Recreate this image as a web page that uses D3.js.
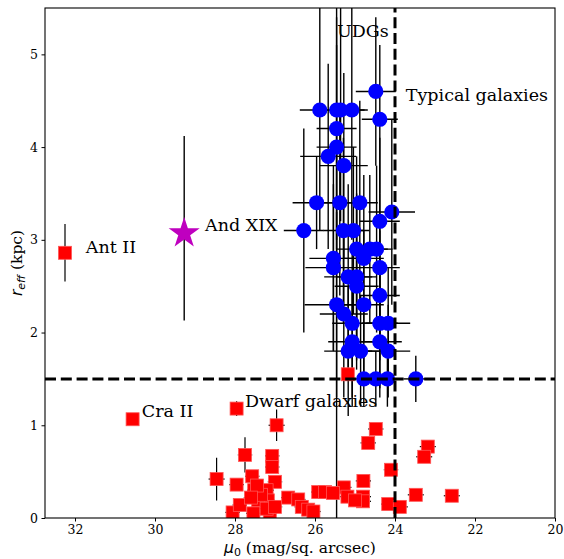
<!DOCTYPE html>
<html>
<head>
<meta charset="utf-8">
<script src="https://cdn.jsdelivr.net/npm/d3@7"></script>
<style>
  body { margin: 0; background: #fff; }
  .chart text { font-family: "DejaVu Serif", serif; }
</style>
</head>
<body>
<div class="chart"></div>
<script>
// UDGs (blue circles)
var udgMu  = [24.48, 25.88, 25.46, 25.36, 25.08, 24.38, 25.46, 25.46, 25.67, 25.28,
              25.96, 25.38, 24.88, 24.08, 24.38, 26.28, 25.29, 25.04, 24.96, 24.63,
              24.46, 24.78, 25.54, 25.54, 24.38, 25.17, 24.96, 24.96, 24.38, 25.46,
              24.78, 25.28, 25.07, 24.38, 24.17, 25.07, 24.38, 25.17, 24.86, 24.17,
              24.78, 24.48, 24.19, 23.48];
var udgR   = [4.60, 4.40, 4.40, 4.40, 4.40, 4.30, 4.20, 4.00, 3.90, 3.80,
              3.40, 3.40, 3.40, 3.30, 3.20, 3.10, 3.10, 3.10, 2.90, 2.90,
              2.90, 2.80, 2.80, 2.70, 2.70, 2.60, 2.60, 2.50, 2.40, 2.30,
              2.30, 2.20, 2.10, 2.10, 2.10, 1.90, 1.90, 1.80, 1.80, 1.80,
              1.50, 1.50, 1.50, 1.50];
var udgMuErr = [0.50, 0.50, 0.40, 0.60, 0.40, 0.45, 0.50, 0.50, 0.70, 0.60,
                0.60, 0.50, 0.45, 0.58, 0.50, 0.50, 0.50, 0.40, 0.50, 0.45,
                0.40, 0.50, 0.60, 0.70, 0.50, 0.60, 0.50, 0.55, 0.50, 0.80,
                0.50, 0.60, 0.50, 0.45, 0.55, 0.60, 0.55, 0.60, 0.50, 0.55,
                0.40, 0.40, 0.40, 0.30];
var udgRErr  = [0.80, 1.30, 4.50, 1.20, 1.40, 0.80, 1.20, 1.10, 1.00, 1.00,
                0.50, 1.00, 1.10, 1.00, 0.90, 1.10, 1.00, 0.90, 1.00, 0.80,
                0.90, 0.90, 1.00, 0.90, 0.80, 1.00, 0.90, 0.90, 0.70, 1.00,
                0.80, 0.90, 0.80, 0.70, 0.60, 0.70, 0.60, 0.70, 0.60, 0.50,
                0.30, 0.30, 0.30, 0.25];

// dwarf galaxies (red squares)
var dwarfMu = [25.18, 27.96, 26.96, 24.48, 24.67, 27.75, 27.07, 27.07, 23.18, 23.27,
               24.10, 28.46, 27.96, 27.57, 27.00, 24.79, 25.28, 23.48, 22.58, 24.17,
               23.88, 24.80, 24.80, 25.19, 25.00, 25.92, 25.75, 25.55, 26.67, 26.42,
               26.33, 26.17, 26.04, 28.06, 27.88, 27.52, 27.21, 27.18, 27.42, 27.54,
               27.13, 27.21, 27.00, 27.35, 27.45, 27.60];
var dwarfR  = [1.55, 1.18, 1.00, 0.96, 0.81, 0.68, 0.67, 0.55, 0.77, 0.66,
               0.52, 0.42, 0.36, 0.45, 0.39, 0.40, 0.33, 0.25, 0.24, 0.15,
               0.12, 0.23, 0.18, 0.23, 0.19, 0.28, 0.28, 0.27, 0.22, 0.20,
               0.12, 0.09, 0.07, 0.06, 0.14, 0.30, 0.30, 0.19, 0.19, 0.05,
               0.05, 0.10, 0.12, 0.25, 0.35, 0.22];
var dwarfMuErr = [0.15, 0.15, 0.20, 0.19, 0.19, 0.18, 0.18, 0.18, 0.20, 0.20,
                  0.18, 0.20, 0.18, 0.18, 0.18, 0.19, 0.19, 0.20, 0.20, 0.18,
                  0.20, 0.20, 0.20, 0.18, 0.18, 0.18, 0.18, 0.18, 0.18, 0.18,
                  0.18, 0.18, 0.18, 0.18, 0.18, 0.18, 0.18, 0.18, 0.18, 0.18,
                  0.18, 0.18, 0.18, 0.18, 0.18, 0.18];
var dwarfRErr  = [0.05, 0.08, 0.17, 0.04, 0.04, 0.19, 0.05, 0.05, 0.04, 0.04,
                  0.04, 0.23, 0.04, 0.04, 0.04, 0.04, 0.04, 0.04, 0.04, 0.04,
                  0.04, 0.04, 0.04, 0.04, 0.04, 0.04, 0.04, 0.04, 0.04, 0.04,
                  0.04, 0.04, 0.04, 0.04, 0.04, 0.04, 0.04, 0.04, 0.04, 0.04,
                  0.04, 0.04, 0.04, 0.04, 0.04, 0.04];

// named objects
var namedSquares = [
  {name: "Ant II", mu: 32.25, r: 2.86, muErr: 0.15, rErr: 0.31},
  {name: "Cra II", mu: 30.56, r: 1.065, muErr: 0.15, rErr: 0.05}
];
var andXIX = {name: "And XIX", mu: 29.27, r: 3.07, rLo: 0.94, rHi: 1.05};

var labels = [
  {text: "UDGs", mu: 25.45, r: 5.19},
  {text: "Typical galaxies", mu: 23.73, r: 4.50},
  {text: "And XIX", mu: 28.75, r: 3.10},
  {text: "Ant II", mu: 31.73, r: 2.86},
  {text: "Cra II", mu: 30.33, r: 1.09},
  {text: "Dwarf galaxies", mu: 27.75, r: 1.20}
];

var xTicks = [32, 30, 28, 26, 24, 22, 20];
var yTicks = [0, 1, 2, 3, 4, 5];
var rCut = 1.5, muCut = 24;

draw();

function draw() {
  var width = 564, height = 559;
  var margin = {left: 45, right: 9, top: 8, bottom: 41};

  var x = d3.scaleLinear().domain([32.75, 20]).range([margin.left, width - margin.right]);
  var y = d3.scaleLinear().domain([0, 5.5]).range([height - margin.bottom, margin.top]);

  var svg = d3.select(".chart")
          .append("svg")
          .attr("width", width)
          .attr("height", height);

  svg.append("clipPath").attr("id", "clip")
          .append("rect")
          .attr("x", margin.left).attr("y", margin.top)
          .attr("width", width - margin.left - margin.right)
          .attr("height", height - margin.top - margin.bottom);

  var plot = svg.append("g").attr("clip-path", "url(#clip)");

  var udg = udgMu.map(function(d, i) {
    return {mu: d, r: udgR[i], muErr: udgMuErr[i], rErr: udgRErr[i]};
  });
  var dwarfs = dwarfMu.map(function(d, i) {
    return {mu: d, r: dwarfR[i], muErr: dwarfMuErr[i], rErr: dwarfRErr[i]};
  }).concat(namedSquares);

  // error bars
  function errBars(g, data, w) {
    g.selectAll(".xe").data(data).enter().append("line")
          .attr("x1", function(d) { return x(d.mu - d.muErr); })
          .attr("x2", function(d) { return x(d.mu + d.muErr); })
          .attr("y1", function(d) { return y(d.r); })
          .attr("y2", function(d) { return y(d.r); })
          .attr("stroke", "#000").attr("stroke-width", w);
    g.selectAll(".ye").data(data).enter().append("line")
          .attr("x1", function(d) { return x(d.mu); })
          .attr("x2", function(d) { return x(d.mu); })
          .attr("y1", function(d) { return y(d.r - d.rErr); })
          .attr("y2", function(d) { return y(d.r + d.rErr); })
          .attr("stroke", "#000").attr("stroke-width", w);
  }

  errBars(plot.append("g"), dwarfs, 1.2);
  errBars(plot.append("g"), udg, 1.4);

  plot.append("line")
          .attr("x1", x(andXIX.mu)).attr("x2", x(andXIX.mu))
          .attr("y1", y(andXIX.r - andXIX.rLo)).attr("y2", y(andXIX.r + andXIX.rHi))
          .attr("stroke", "#000").attr("stroke-width", 1.4);

  // markers
  plot.selectAll(".dwarf").data(dwarfs).enter().append("rect")
          .attr("x", function(d) { return x(d.mu) - 6.5; })
          .attr("y", function(d) { return y(d.r) - 6.5; })
          .attr("width", 13).attr("height", 13)
          .attr("fill", "#ff0000")
          .attr("stroke", "#ff5555").attr("stroke-width", 0.8);

  plot.selectAll(".udg").data(udg).enter().append("circle")
          .attr("cx", function(d) { return x(d.mu); })
          .attr("cy", function(d) { return y(d.r); })
          .attr("r", 7.6)
          .attr("fill", "#0000ff");

  plot.append("path")
          .attr("d", d3.symbol(d3.symbolStar, 300)())
          .attr("transform", "translate(" + x(andXIX.mu) + "," + y(andXIX.r) + ")")
          .attr("fill", "#bf00bf");

  // threshold lines
  plot.append("line")
          .attr("x1", x.range()[0]).attr("x2", x.range()[1])
          .attr("y1", y(rCut)).attr("y2", y(rCut))
          .attr("stroke", "#000").attr("stroke-width", 3)
          .attr("stroke-dasharray", "11,4.8");
  plot.append("line")
          .attr("x1", x(muCut)).attr("x2", x(muCut))
          .attr("y1", y(0)).attr("y2", y(5.5))
          .attr("stroke", "#000").attr("stroke-width", 3)
          .attr("stroke-dasharray", "11,4.8");

  // annotations
  svg.selectAll(".lbl").data(labels).enter().append("text")
          .attr("x", function(d) { return x(d.mu); })
          .attr("y", function(d) { return y(d.r); })
          .style("font-size", "17.5px")
          .text(function(d) { return d.text; });

  // axes
  var xAxis = svg.append("g")
          .attr("transform", "translate(0," + y(0) + ")")
          .call(d3.axisBottom(x).tickValues(xTicks).tickSize(3.5).tickPadding(3.5).tickFormat(d3.format("d")));
  var yAxis = svg.append("g")
          .attr("transform", "translate(" + x(32.75) + ",0)")
          .call(d3.axisLeft(y).tickValues(yTicks).tickSize(3.5).tickPadding(3.5).tickFormat(d3.format("d")));
  [xAxis, yAxis].forEach(function(a) {
    a.select(".domain").remove();
    a.selectAll("text").style("font-family", "DejaVu Serif").style("font-size", "12.5px").attr("fill", "#000");
    a.selectAll("line").attr("stroke", "#000");
  });

  svg.append("rect")
          .attr("x", margin.left).attr("y", margin.top)
          .attr("width", width - margin.left - margin.right)
          .attr("height", height - margin.top - margin.bottom)
          .attr("fill", "none").attr("stroke", "#000").attr("stroke-width", 1.1);

  // axis labels
  var xl = svg.append("text")
          .attr("x", (margin.left + width - margin.right) / 2)
          .attr("y", 553)
          .attr("text-anchor", "middle")
          .style("font-size", "15.5px");
  xl.append("tspan").style("font-family", "DejaVu Sans").style("font-style", "italic").text("μ");
  xl.append("tspan").style("font-family", "DejaVu Sans").style("font-size", "11px").attr("dy", 3).text("0");
  xl.append("tspan").attr("dy", -3).text(" (mag/sq. arcsec)");

  var yl = svg.append("text")
          .attr("transform", "translate(22," + (margin.top + height - margin.bottom) / 2 + ") rotate(-90)")
          .attr("text-anchor", "middle")
          .style("font-size", "15.5px");
  yl.append("tspan").style("font-family", "DejaVu Sans").style("font-style", "italic").text("r");
  yl.append("tspan").style("font-family", "DejaVu Sans").style("font-style", "italic")
          .style("font-size", "11px").attr("dy", 3).text("eff");
  yl.append("tspan").attr("dy", -3).text(" (kpc)");
}
</script>
</body>
</html>
